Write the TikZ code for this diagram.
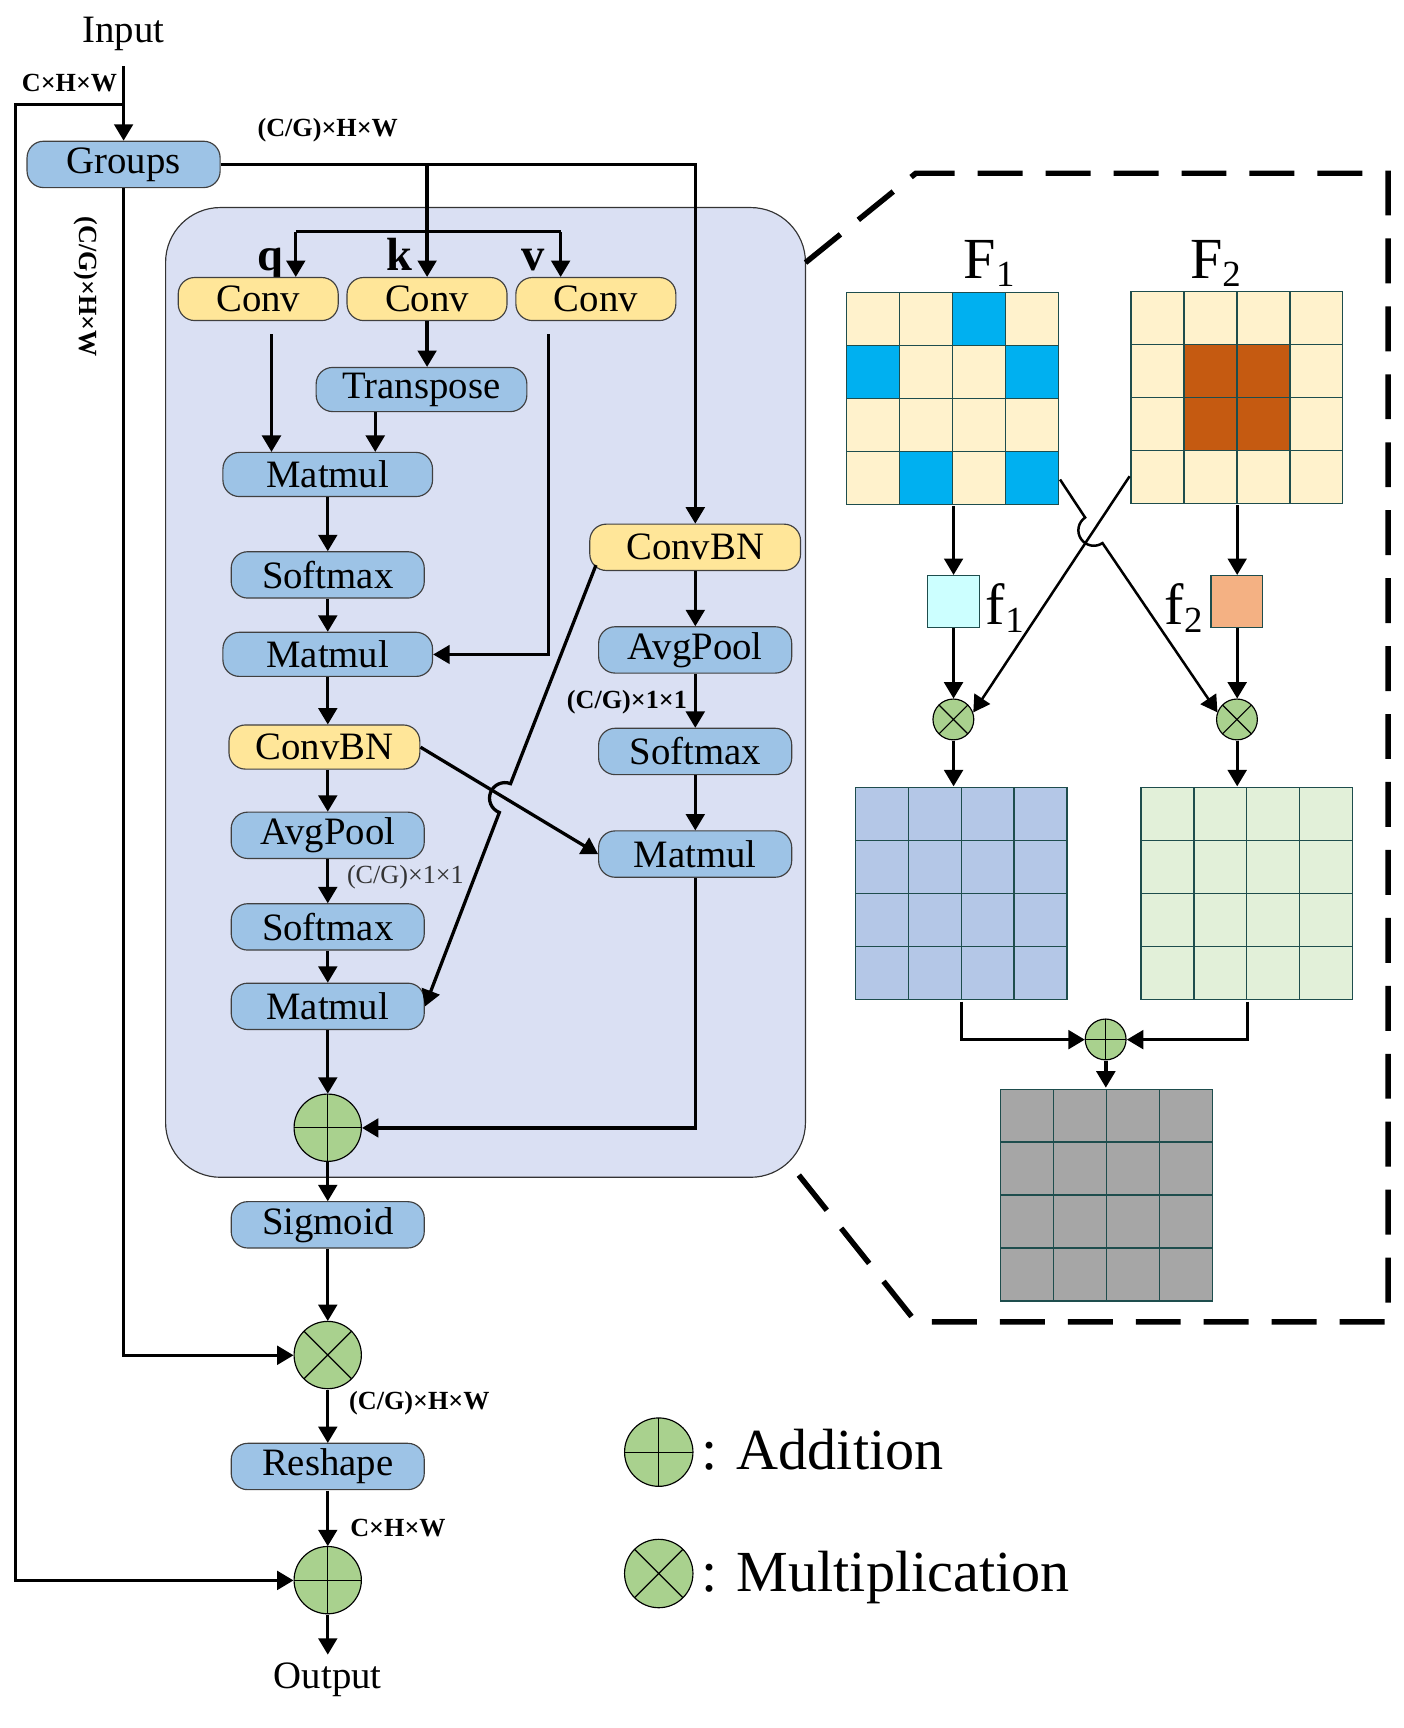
\documentclass[tikz,border=0pt]{standalone}
\usepackage{fontspec}
\setmainfont{Liberation Serif}
\usetikzlibrary{arrows.meta}
\definecolor{boxblue}{HTML}{9DC3E6}
\definecolor{boxyellow}{HTML}{FFE699}
\definecolor{bigbg}{HTML}{DAE0F3}
\definecolor{gcirc}{HTML}{A9D18E}
\definecolor{cream}{HTML}{FFF2CC}
\definecolor{cellblue}{HTML}{00B0F0}
\definecolor{brown}{HTML}{C55A11}
\definecolor{fonec}{HTML}{CCFFFF}
\definecolor{ftwoc}{HTML}{F4B183}
\definecolor{mapblue}{HTML}{B4C7E7}
\definecolor{mapgreen}{HTML}{E2F0D9}
\definecolor{mapgray}{HTML}{A6A6A6}
\definecolor{gridc}{HTML}{1E4D4D}
\newcommand{\fmapgrid}[2]{%
  \foreach \i in {1,2,3} {
    \draw[cell] ({#1+48*\i},#2) -- ++(0,192);
    \draw[cell] (#1,{#2+48*\i}) -- ++(192,0);
  }
  \draw[cell] (#1,#2) rectangle ++(192,192);}
\begin{document}
\begin{tikzpicture}[x=0.02cm,y=-0.02cm,line width=1.7pt,
    font=\fontsize{20}{24}\selectfont,
    box/.style={draw=black!75,line width=0.6pt,rounded corners=0.3cm,minimum width=3.5cm,minimum height=0.84cm,inner sep=0pt},
    bluebox/.style={box,fill=boxblue},
    yellowbox/.style={box,fill=boxyellow},
    opcirc/.style={circle,draw=black,line width=0.6pt,fill=gcirc,minimum size=1.22cm,inner sep=0pt},
    addop/.style={opcirc,path picture={\draw[line width=0.6pt] (path picture bounding box.north)--(path picture bounding box.south) (path picture bounding box.west)--(path picture bounding box.east);}},
    mulop/.style={opcirc,path picture={\draw[line width=0.6pt] (path picture bounding box.north west)--(path picture bounding box.south east) (path picture bounding box.north east)--(path picture bounding box.south west);}},
    dimlab/.style={inner sep=0pt,font=\bfseries\fontsize{13.5}{16}\selectfont},
    qkv/.style={anchor=base,inner sep=0pt,font=\bfseries\fontsize{24}{28}\selectfont},
    biglab/.style={anchor=base west,inner sep=0pt,font=\fontsize{30}{36}\selectfont},
    cell/.style={draw=gridc,line width=0.6pt},
    fmap/.style={minimum size=3.84cm,inner sep=0pt},
    arr/.style={-{Triangle[length=0.3cm,width=0.34cm]}}]
  \useasboundingbox (0,0) rectangle (1280,1576.5);
  \begin{scope}[scale=1.0067,transform shape]
  \node[draw=black!80,line width=0.6pt,fill=bigbg,rounded corners=1cm,minimum width=11.6cm,minimum height=17.58cm] (att) at (440,627.5) {};
  \draw[line width=0.1cm,dash pattern=on 0.82cm off 0.42cm]
    (730,238) -- (830,157) -- (1258,157) -- (1258,1198) -- (830,1198) -- (712,1050);

  \node (input) at (112,31) {Input};
  \node[dimlab] (chw1) at (63,75) {C×H×W};
  \node[bluebox] (groups) at (112,149) {Groups};
  \node[dimlab] (cghw1) at (297,118) {(C/G)×H×W};
  \node[dimlab,rotate=-90] (cghw2) at (78,260) {(C/G)×H×W};

  \node[qkv] (ql) at (245,245) {q};
  \node[qkv] (kl) at (362,245) {k};
  \node[qkv] (vl) at (483,245) {v};
  \node[yellowbox,minimum width=2.9cm,minimum height=0.78cm] (convq) at (234,271) {Conv};
  \node[yellowbox,minimum width=2.9cm,minimum height=0.78cm] (convk) at (387,271) {Conv};
  \node[yellowbox,minimum width=2.9cm,minimum height=0.78cm] (convv) at (540,271) {Conv};
  \node[bluebox,minimum width=3.82cm,minimum height=0.8cm] (trans) at (382,353) {Transpose};
  \node[bluebox,minimum width=3.8cm,minimum height=0.8cm] (mm1) at (297,430) {Matmul};
  \node[bluebox] (sm1) at (297,521) {Softmax};
  \node[bluebox,minimum width=3.8cm,minimum height=0.8cm] (mm2) at (297,593) {Matmul};
  \node[yellowbox,minimum width=3.46cm,minimum height=0.8cm] (cbn1) at (294,677) {ConvBN};
  \node[bluebox] (ap1) at (297,757) {AvgPool};
  \node[inner sep=0pt,anchor=west,font=\fontsize{13.5}{16}\selectfont,text=black!80] (cg11a) at (313,795) {(C/G)×1×1};
  \node[bluebox] (sm2) at (297,840) {Softmax};
  \node[bluebox] (mm3) at (297,912) {Matmul};
  \node[addop] (add1) at (297,1022) {};
  \node[yellowbox,minimum width=3.82cm] (cbn2) at (630,496) {ConvBN};
  \node[bluebox] (ap2) at (630,589) {AvgPool};
  \node[dimlab,anchor=east] (cg11b) at (624,636) {(C/G)×1×1};
  \node[bluebox] (sm3) at (630,681) {Softmax};
  \node[bluebox] (mm4) at (630,774) {Matmul};
  \node[bluebox] (sig) at (297,1110) {Sigmoid};
  \node[mulop] (mul1) at (297,1228) {};
  \node[dimlab,anchor=west] (cghw3) at (315,1272) {(C/G)×H×W};
  \node[bluebox] (resh) at (297,1329) {Reshape};
  \node[dimlab,anchor=west] (chw2) at (316,1385) {C×H×W};
  \node[addop] (add2) at (297,1432) {};
  \node (output) at (297,1522) {Output};

  \coordinate (in0) at (112,60);
  \coordinate (br) at (112,95);
  \coordinate (lft) at (14,1432);
  \coordinate (barl) at (268,210);
  \coordinate (barr) at (508,210);
  \coordinate (qo) at (246,303);
  \coordinate (vo) at (497,303);
  \coordinate (cbo) at (540,512);
  \begin{scope}[arr]
    \draw (in0) -- (groups.north);
    \draw (br) -| (lft) -- (add2.west);
    \draw (groups.south) |- (mul1.west);
    \draw (groups.east) -| (cbn2.north);
    \draw (convk.north |- groups.east) -- (convk.north);
    \draw (barl) -- (barl |- convq.north);
    \draw (barr) -- (barr |- convv.north);
    \draw (convk.south) -- (convk.south |- trans.north);
    \draw (qo) -- (qo |- mm1.north);
    \draw ([xshift=-0.84cm]trans.south) -- ([xshift=-0.84cm]trans.south |- mm1.north);
    \draw (mm1.south) -- (sm1.north);
    \draw (sm1.south) -- (mm2.north);
    \draw[line width=1.3pt] (vo) |- (mm2.east);
    \draw (mm2.south) -- (mm2.south |- cbn1.north);
    \draw (cbn1.south -| ap1) -- (ap1.north);
    \draw (ap1.south) -- (sm2.north);
    \draw (sm2.south) -- (mm3.north);
    \draw (mm3.south) -- (add1.north);
    \draw (cbn2.south) -- (ap2.north);
    \draw (ap2.south) -- (sm3.north);
    \draw (sm3.south) -- (mm4.north);
    \draw (mm4.south) |- (add1.east);
    \draw (cbn1.east) -- (mm4.west);
    \draw (cbo) -- (462.7,710.2) arc[start angle=291.3,delta angle=-180,radius=14] -- (mm3.east);
    \draw (add1.south) -- (sig.north);
    \draw (sig.south) -- (mul1.north);
    \draw (mul1.south) -- (resh.north);
    \draw (resh.south) -- (add2.north);
    \draw (add2.south) -- (output.north);
  \end{scope}
  \draw (barl) -- (barr);

  \node[fmap,fill=cream] (F1) at (863,361) {};
  \foreach \r/\c in {0/2,1/0,1/3,3/1,3/3}
    \fill[cellblue] ({767+48*\c},{265+48*\r}) rectangle ++(48,48);
  \fmapgrid{767}{265}
  \node[fmap,fill=cream] (F2) at (1121,360) {};
  \foreach \r/\c in {1/1,1/2,2/1,2/2}
    \fill[brown] ({1025+48*\c},{264+48*\r}) rectangle ++(48,48);
  \fmapgrid{1025}{264}
  \node[fmap,fill=mapblue] (blue) at (871,810) {};
  \fmapgrid{775}{714}
  \node[fmap,fill=mapgreen] (green) at (1130,810) {};
  \fmapgrid{1034}{714}
  \node[fmap,fill=mapgray] (gray) at (1003,1083) {};
  \fmapgrid{907}{987}
  \node[biglab] (F1lab) at (872,252) {F\raisebox{-4.5pt}{\fontsize{19}{19}\selectfont 1}};
  \node[biglab] (F2lab) at (1077,252) {F\raisebox{-4.5pt}{\fontsize{19}{19}\selectfont 2}};
  \node[draw=gridc,line width=0.6pt,fill=fonec,minimum size=0.94cm,inner sep=0pt] (f1) at (864,545) {};
  \node[draw=gridc,line width=0.6pt,fill=ftwoc,minimum size=0.94cm,inner sep=0pt] (f2) at (1121,545) {};
  \node[biglab] (f1lab) at (892,566) {f\raisebox{-4pt}{\fontsize{19}{19}\selectfont 1}};
  \node[biglab] (f2lab) at (1054,566) {f\raisebox{-4pt}{\fontsize{19}{19}\selectfont 2}};
  \node[mulop,minimum size=0.74cm] (m1) at (864,652) {};
  \node[mulop,minimum size=0.74cm] (m2) at (1121,652) {};
  \node[addop,minimum size=0.74cm] (a3) at (1002,942) {};
  \begin{scope}[arr]
    \draw (f1 |- F1.south) -- (f1.north);
    \draw (f1.south) -- (m1.north);
    \draw (f2 |- F2.south) -- (f2.north);
    \draw (f2.south) -- (m2.north);
    \draw (m1.south) -- (m1.south |- blue.north);
    \draw (m2.south) -- (m2.south |- green.north);
    \draw (blue.south) |- (a3.west);
    \draw (green.south) |- (a3.east);
    \draw (a3.south) -- (a3.south |- gray.north);
    \draw[line width=1.3pt] ([yshift=0.52cm]F2.south west) -- (m1.20);
    \draw[line width=1.3pt] ([yshift=0.48cm]F1.south east) -- (983.4,469.0) arc[start angle=235.8,delta angle=-180,radius=14] -- (m2.160);
  \end{scope}

  \node[addop,minimum size=1.24cm] (addl) at (597,1316) {};
  \node[mulop,minimum size=1.24cm] (mull) at (597,1426) {};
  \node[anchor=base west,inner sep=0pt,font=\fontsize{30}{36}\selectfont] (addt) at (634,1332) {: Addition};
  \node[anchor=base west,inner sep=0pt,font=\fontsize{30}{36}\selectfont] (mult) at (634,1442) {: Multiplication};
  \end{scope}
\end{tikzpicture}
\end{document}
